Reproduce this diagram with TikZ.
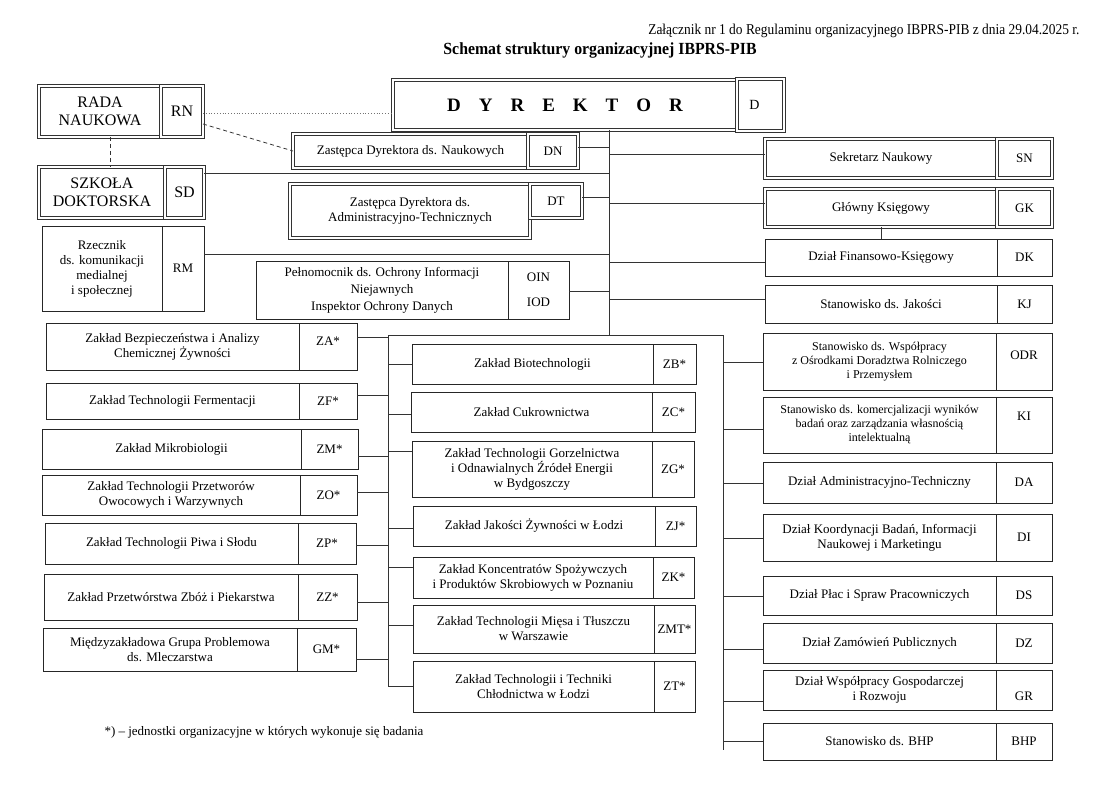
\documentclass[tikz,border=0pt]{standalone}
\usepackage{fontspec}
\setmainfont{Liberation Serif}
\usetikzlibrary{positioning}

\newcommand{\unitfont}{\fontsize{13}{15}\selectfont}
\newcommand{\narrowfont}{\fontsize{12}{14}\selectfont}
\newcommand{\bigfont}{\fontsize{16}{18}\selectfont}
\newcommand{\dyrfont}{\fontsize{19}{22}\selectfont\bfseries}
\newcommand{\dsp}{\hspace{18pt}}

\begin{document}
\begin{tikzpicture}[x=1pt, y=-1pt,
  font=\unitfont,
  box/.style={draw=black!85, line width=0.8pt, align=center, inner sep=1pt, outer sep=0pt},
  dbl/.style={box, draw=black!80, line width=3.4pt, postaction={draw=white, line width=1.4pt}},
  link/.style={draw=black!80, line width=0.8pt},
  dashlink/.style={link, dash pattern=on 4pt off 3pt},
  dotlink/.style={draw=black!55, line width=0.8pt, dotted}
]
\fill[white] (0,0) rectangle (1119,789);
\useasboundingbox (0,0) rectangle (1119,789);

% heading
\node[anchor=east, font=\fontsize{15}{17}\selectfont] (hdr) at (1083,31)
  {\scalebox{0.895}[1]{Załącznik nr 1 do Regulaminu organizacyjnego IBPRS-PIB z dnia 29.04.2025 r.}};
\node[font=\fontsize{17}{19}\selectfont\bfseries] (title) at (600,50)
  {\scalebox{0.93}[1]{Schemat struktury organizacyjnej IBPRS-PIB}};

% top left
\node[dbl, font=\bigfont, minimum width=122pt, minimum height=51pt] (rada) at (100,111.5) {RADA\\NAUKOWA};
\node[dbl, font=\bigfont, minimum width=42pt, minimum height=51pt, right=0pt of rada] (rn) {RN};
\node[dbl, font=\bigfont, minimum width=126pt, minimum height=51pt] (szk) at (102,192.5) {SZKOŁA\\DOKTORSKA};
\node[dbl, font=\bigfont, minimum width=39pt, minimum height=51pt, right=0pt of szk] (sd) {SD};
\node[box, minimum width=120pt, minimum height=85pt] (rz) at (102,268.5) {Rzecznik\\ds. komunikacji\\medialnej\\i społecznej};
\node[box, minimum width=42pt, minimum height=85pt, right=0pt of rz] (rm) {RM};

% director and deputies
\node[dbl, minimum width=344pt, minimum height=50pt] (dyr) at (565,105)
  {\dyrfont D\dsp Y\dsp R\dsp E\dsp K\dsp T\dsp O\dsp R};
\node[dbl, minimum width=47pt, minimum height=52pt, right=0pt of dyr,
  label={[xshift=-6pt, font=\fontsize{14}{16}\selectfont]center:D}] (d) {};
\node[dbl, minimum width=235pt, minimum height=34pt] (zdn) at (410.5,151) {Zastępca Dyrektora ds. Naukowych};
\node[dbl, minimum width=50pt, minimum height=34pt, right=0pt of zdn] (dn) {DN};
\node[dbl, minimum width=240pt, minimum height=54pt] (zdt) at (410,211) {Zastępca Dyrektora ds.\\Administracyjno-Technicznych};
\node[dbl, minimum width=52pt, minimum height=34pt, anchor=north west] (dt) at (zdt.north east) {DT};
\node[box, minimum width=252pt, minimum height=58pt, font=\fontsize{13}{17}\selectfont] (pel) at (382,290)
  {Pełnomocnik ds. Ochrony Informacji\\Niejawnych\\Inspektor Ochrony Danych};
\node[box, minimum width=61pt, minimum height=58pt, right=0pt of pel] (oin) {OIN\\[10pt]IOD};

% right column
\node[dbl, minimum width=232pt, minimum height=39pt] (sn) at (881,158.5) {Sekretarz Naukowy};
\node[dbl, minimum width=55pt, minimum height=39pt, right=0pt of sn] (snc) {SN};
\node[dbl, minimum width=232pt, minimum height=38pt] (gk) at (881,208) {Główny Księgowy};
\node[dbl, minimum width=55pt, minimum height=38pt, right=0pt of gk] (gkc) {GK};
\node[box, minimum width=232pt, minimum height=37pt] (dk) at (881,257.5) {Dział Finansowo-Księgowy};
\node[box, minimum width=55pt, minimum height=37pt, right=0pt of dk] (dkc) {DK};
\node[box, minimum width=232pt, minimum height=38pt] (kj) at (881,304) {Stanowisko ds. Jakości};
\node[box, minimum width=55pt, minimum height=38pt, right=0pt of kj] (kjc) {KJ};
\node[box, font=\narrowfont, minimum width=233pt, minimum height=57pt] (odr) at (879.5,361.5)
  {Stanowisko ds. Współpracy\\z Ośrodkami Doradztwa Rolniczego\\i Przemysłem};
\node[box, minimum width=56pt, minimum height=57pt, right=0pt of odr, label={[yshift=6.5pt]center:ODR}] (odrc) {};
\node[box, font=\narrowfont, minimum width=233pt, minimum height=56pt] (ki) at (879.5,425)
  {Stanowisko ds. komercjalizacji wyników\\badań oraz zarządzania własnością\\intelektualną};
\node[box, minimum width=56pt, minimum height=56pt, right=0pt of ki, label={[yshift=9pt]center:KI}] (kic) {};
\node[box, minimum width=233pt, minimum height=41pt] (da) at (879.5,482.5) {Dział Administracyjno-Techniczny};
\node[box, minimum width=56pt, minimum height=41pt, right=0pt of da] (dac) {DA};
\node[box, minimum width=233pt, minimum height=47pt] (di) at (879.5,537.5) {Dział Koordynacji Badań, Informacji\\Naukowej i Marketingu};
\node[box, minimum width=56pt, minimum height=47pt, right=0pt of di] (dic) {DI};
\node[box, minimum width=233pt, minimum height=39pt] (ds) at (879.5,595.5) {Dział Płac i Spraw Pracowniczych};
\node[box, minimum width=56pt, minimum height=39pt, right=0pt of ds] (dsc) {DS};
\node[box, minimum width=233pt, minimum height=40pt] (dz) at (879.5,643) {Dział Zamówień Publicznych};
\node[box, minimum width=56pt, minimum height=40pt, right=0pt of dz] (dzc) {DZ};
\node[box, minimum width=233pt, minimum height=40pt] (gr) at (879.5,690) {Dział Współpracy Gospodarczej\\i Rozwoju};
\node[box, minimum width=56pt, minimum height=40pt, right=0pt of gr, label={[yshift=-6pt]center:GR}] (grc) {};
\node[box, minimum width=233pt, minimum height=37pt] (bhp) at (879.5,741.5) {Stanowisko ds. BHP};
\node[box, minimum width=56pt, minimum height=37pt, right=0pt of bhp] (bhpc) {BHP};

% left column
\node[box, minimum width=253pt, minimum height=47pt] (za) at (172.5,346.5) {Zakład Bezpieczeństwa i Analizy\\Chemicznej Żywności};
\node[box, minimum width=58pt, minimum height=47pt, right=0pt of za, label={[yshift=5.5pt]center:ZA*}] (zac) {};
\node[box, minimum width=253pt, minimum height=36pt] (zf) at (172.5,401) {Zakład Technologii Fermentacji};
\node[box, minimum width=58pt, minimum height=36pt, right=0pt of zf] (zfc) {ZF*};
\node[box, minimum width=259pt, minimum height=40pt] (zm) at (171.5,449) {Zakład Mikrobiologii};
\node[box, minimum width=57pt, minimum height=40pt, right=0pt of zm] (zmc) {ZM*};
\node[box, minimum width=258pt, minimum height=40pt] (zo) at (171,495) {Zakład Technologii Przetworów\\Owocowych i Warzywnych};
\node[box, minimum width=57pt, minimum height=40pt, right=0pt of zo] (zoc) {ZO*};
\node[box, minimum width=253pt, minimum height=41pt] (zp) at (171.5,543.5) {Zakład Technologii Piwa i Słodu};
\node[box, minimum width=58pt, minimum height=41pt, right=0pt of zp] (zpc) {ZP*};
\node[box, minimum width=254pt, minimum height=46pt] (zz) at (171,597) {Zakład Przetwórstwa Zbóż i Piekarstwa};
\node[box, minimum width=59pt, minimum height=46pt, right=0pt of zz] (zzc) {ZZ*};
\node[box, minimum width=254pt, minimum height=43pt] (gm) at (170,649.5) {Międzyzakładowa Grupa Problemowa\\ds. Mleczarstwa};
\node[box, minimum width=59pt, minimum height=43pt, right=0pt of gm] (gmc) {GM*};

% middle column
\node[box, minimum width=241pt, minimum height=40pt] (zb) at (532.5,364) {Zakład Biotechnologii};
\node[box, minimum width=43pt, minimum height=40pt, right=0pt of zb] (zbc) {ZB*};
\node[box, minimum width=241pt, minimum height=40pt] (zc) at (531.5,412) {Zakład Cukrownictwa};
\node[box, minimum width=43pt, minimum height=40pt, right=0pt of zc] (zcc) {ZC*};
\node[box, minimum width=240pt, minimum height=56pt] (zg) at (532,469) {Zakład Technologii Gorzelnictwa\\i Odnawialnych Źródeł Energii\\w Bydgoszczy};
\node[box, minimum width=42pt, minimum height=56pt, right=0pt of zg] (zgc) {ZG*};
\node[box, minimum width=242pt, minimum height=40pt] (zj) at (534,526) {Zakład Jakości Żywności w Łodzi};
\node[box, minimum width=41pt, minimum height=40pt, right=0pt of zj] (zjc) {ZJ*};
\node[box, minimum width=240pt, minimum height=41pt] (zk) at (533,577.5) {Zakład Koncentratów Spożywczych\\i Produktów Skrobiowych w Poznaniu};
\node[box, minimum width=41pt, minimum height=41pt, right=0pt of zk] (zkc) {ZK*};
\node[box, minimum width=241pt, minimum height=48pt] (zmt) at (533.5,629) {Zakład Technologii Mięsa i Tłuszczu\\w Warszawie};
\node[box, minimum width=41pt, minimum height=48pt, right=0pt of zmt] (zmtc) {ZMT*};
\node[box, minimum width=241pt, minimum height=51pt] (zt) at (533.5,686.5) {Zakład Technologii i Techniki\\Chłodnictwa w Łodzi};
\node[box, minimum width=41pt, minimum height=51pt, right=0pt of zt] (ztc) {ZT*};

\node[anchor=west] (note) at (101,732) {*) – jednostki organizacyjne w których wykonuje się badania};

% trunk lines
\coordinate (hub) at (609,335);
\coordinate (lhub) at (388,335);
\coordinate (rhub) at (723,335);
\coordinate (lend) at (388,686);
\coordinate (rend) at (723,750);
\draw[link] (dyr.south -| hub) -- (hub);
\draw[link] (lhub) -- (rhub);
\draw[link] (lhub) -- (lend);
\draw[link] (rhub) -- (rend);
\draw[link] (gk.south) -- (dk.north);

\foreach \n/\o in {dn/-4, sd/-19.5, dt/-4, rm/-14.5, oin/1}
  \draw[link] (\n.east) ++(0,\o) coordinate (p) -- (p -| hub);
\foreach \n/\o in {sn/-4.5, gk/-5, dk/4.5, kj/-5}
  \draw[link] (\n.west) ++(0,\o) coordinate (p) -- (p -| hub);
\foreach \n/\o in {zac/-9.5, zfc/-6, zmc/7, zoc/-3, zpc/1.5, zzc/5, gmc/9.5}
  \draw[link] (\n.east) ++(0,\o) coordinate (p) -- (p -| lhub);
\foreach \n/\o in {zb/0, zc/2, zg/-18, zj/2, zk/-10.5, zmt/-4, zt/-0.5}
  \draw[link] (\n.west) ++(0,\o) coordinate (p) -- (p -| lhub);
\foreach \n/\o in {odr/0.5, ki/4, da/0.5, di/0.5, ds/0.5, dz/6, gr/11, bhp/-0.5}
  \draw[link] (\n.west) ++(0,\o) coordinate (p) -- (p -| rhub);

% advisory links
\draw[dotlink] (rn.east) ++(0,1.5) coordinate (p) -- (p -| dyr.west);
\draw[dashlink] (rn.east) ++(0,12.5) coordinate (p) -- (zdn.west);
\draw[dashlink] (rada.south) ++(10,0) coordinate (p) -- (p |- szk.north);
\end{tikzpicture}
\end{document}
